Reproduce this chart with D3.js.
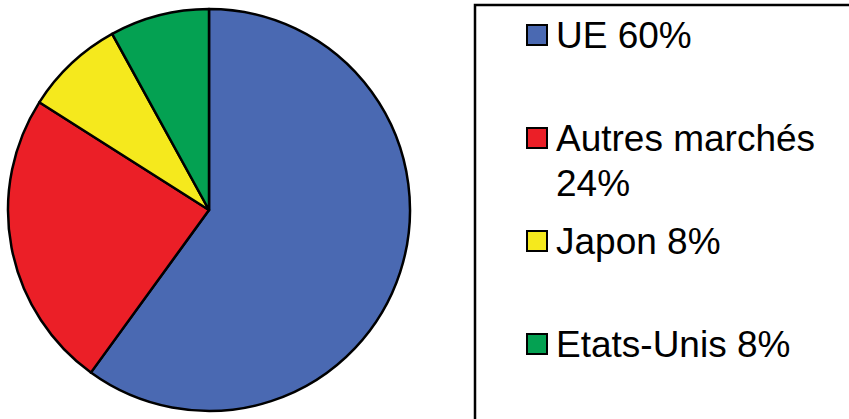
<!DOCTYPE html>
<meta charset="utf-8">
<script src="https://d3js.org/d3.v7.min.js"></script>
<style>
  body { margin: 0; background: #fff; }
</style>
<div id="main"></div>
<script>

var width = 849
var height = 419

// chart data
var categories = ["UE", "Autres marchés", "Japon", "Etats-Unis"]
var values = [60, 24, 8, 8]
var colors = ["#4a69b2", "#eb1f27", "#f5e91d", "#04a152"]
// legend lines (Autres marchés wraps onto two lines)
var legendLines = [["UE 60%"], ["Autres marchés", "24%"], ["Japon 8%"], ["Etats-Unis 8%"]]

var svg = d3.select("#main")
  .append("svg")
    .attr("width", width)
    .attr("height", height)

var data = categories.map((c, i) => ({name: c, value: values[i], color: colors[i], lines: legendLines[i]}))

// pie, starts at 12 o'clock and goes clockwise
var radius = 201
var pie = d3.pie().sort(null).value(d => d.value)
var arc = d3.arc().innerRadius(0).outerRadius(radius)

svg.append("g")
    .attr("transform", "translate(209,210)")
  .selectAll("path")
  .data(pie(data))
  .enter()
  .append("path")
    .attr("d", arc)
    .attr("fill", d => d.data.color)
    .attr("stroke", "#000")
    .attr("stroke-width", 2.5)
    .attr("stroke-linejoin", "round")

// legend box, runs off the right and bottom edges
svg.append("rect")
    .attr("x", 475)
    .attr("y", 5)
    .attr("width", 420)
    .attr("height", 440)
    .attr("fill", "none")
    .attr("stroke", "#000")
    .attr("stroke-width", 2.5)

var itemY = d3.scaleLinear().domain([0, 3]).range([48, 357])

var item = svg.append("g")
  .selectAll("g")
  .data(data)
  .enter()
  .append("g")
    .attr("transform", (d, i) => "translate(0," + itemY(i) + ")")

item.append("rect")
    .attr("x", 527)
    .attr("y", -23)
    .attr("width", 20)
    .attr("height", 20)
    .attr("fill", d => d.color)
    .attr("stroke", "#000")
    .attr("stroke-width", 2)

item.append("text")
    .attr("x", 556)
    .attr("y", 0)
    .style("font-family", "'Liberation Sans', Arial, sans-serif")
    .style("font-size", "37px")
    .style("fill", "#000")
  .selectAll("tspan")
  .data(d => d.lines)
  .enter()
  .append("tspan")
    .attr("x", 556)
    .attr("dy", (d, i) => i === 0 ? 0 : 45)
    .text(d => d)

</script>
